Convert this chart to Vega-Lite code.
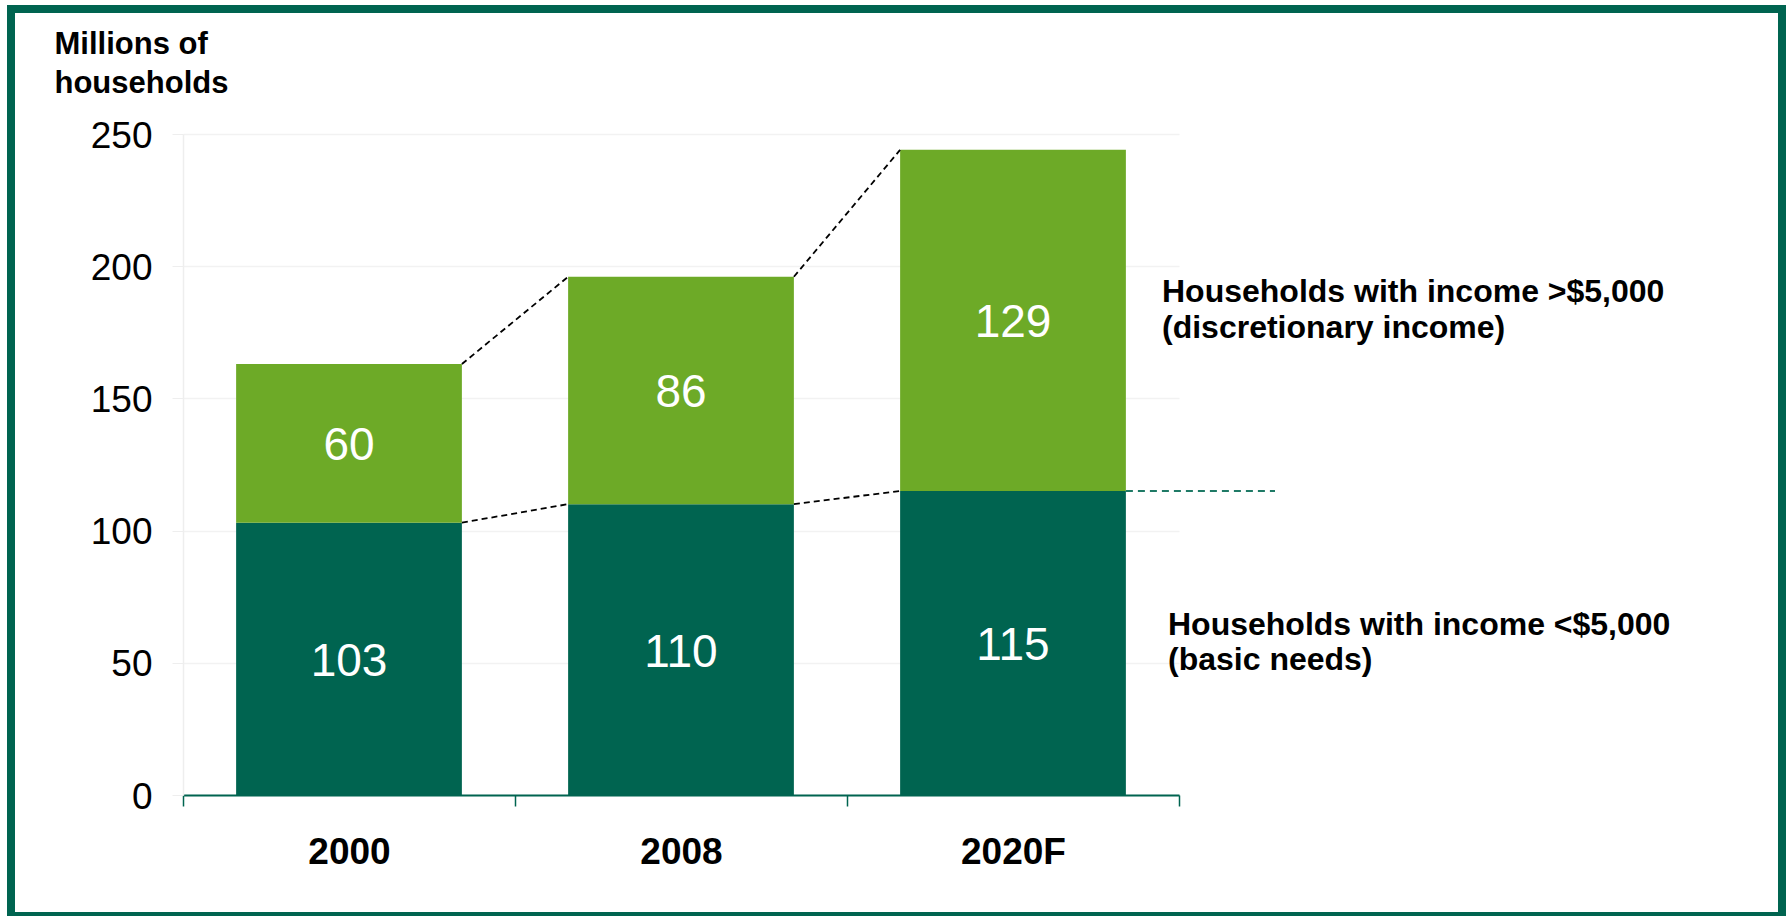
{
  "$schema": "https://vega.github.io/schema/vega-lite/v6.json",
  "width": 1771,
  "height": 907,
  "autosize": {"type": "none"},
  "padding": {"left": 11, "top": 9, "right": 10, "bottom": 0},
  "background": "white",
  "config": {"view": {"stroke": "#006450", "strokeWidth": 8, "fill": "white"}, "font": "Liberation Sans"},
  "datasets": {
    "main": [
      {"year": "2000", "series": "basic", "value": 103},
      {"year": "2000", "series": "discretionary", "value": 60},
      {"year": "2008", "series": "basic", "value": 110},
      {"year": "2008", "series": "discretionary", "value": 86},
      {"year": "2020F", "series": "basic", "value": 115},
      {"year": "2020F", "series": "discretionary", "value": 129}
    ],
    "connectors": [
      {"from": "2000", "to": "2008", "y1": 163, "y2": 196},
      {"from": "2008", "to": "2020F", "y1": 196, "y2": 244},
      {"from": "2000", "to": "2008", "y1": 103, "y2": 110},
      {"from": "2008", "to": "2020F", "y1": 110, "y2": 115}
    ]
  },
  "layer": [
    {
      "data": {"name": "main"},
      "transform": [{"stack": "value", "groupby": ["year"], "sort": [{"field": "series", "order": "ascending"}], "as": ["v0", "v1"]}],
      "mark": {"type": "bar", "width": {"band": 0.68}},
      "encoding": {
        "x": {
          "field": "year", "type": "nominal",
          "scale": {"domain": ["2000", "2008", "2020F"], "paddingInner": 0, "paddingOuter": 0, "range": [172, 1168]},
          "axis": {
            "title": null, "labelAngle": 0, "labelFont": "Liberation Sans", "labelFontWeight": "bold", "labelFontSize": 37,
            "labelColor": "black", "labelBaseline": "alphabetic", "labelPadding": 57, "offset": -121,
            "domain": true, "domainColor": "#006450", "domainWidth": 2,
            "tickColor": "#006450", "tickWidth": 1.5, "tickSize": 11,
            "tickBand": "extent", "grid": false
          }
        },
        "y": {
          "field": "v0", "type": "quantitative",
          "scale": {"domain": [0, 250], "nice": false, "range": [786, 125]},
          "axis": {
            "values": [0, 50, 100, 150, 200, 250],
            "title": ["Millions of", "households"],
            "titleFont": "Liberation Sans", "titleFontSize": 31, "titleFontWeight": "bold", "titleColor": "black",
            "titleAngle": 0, "titleAlign": "left", "titleBaseline": "alphabetic", "titleX": -129, "titleY": 44, "titleLineHeight": 39,
            "labelFontSize": 37, "labelColor": "black", "labelPadding": 20, "labelOffset": 2, "offset": -172,
            "domain": true, "domainColor": "#eeeeee", "domainWidth": 1.5, "tickColor": "#eeeeee", "tickSize": 11,
            "grid": true, "gridColor": "#f2f2f2", "gridWidth": 1.5
          }
        },
        "y2": {"field": "v1"},
        "color": {
          "field": "series", "type": "nominal",
          "scale": {"domain": ["basic", "discretionary"], "range": ["#006450", "#6DAA27"]},
          "legend": null
        }
      }
    },
    {
      "data": {"name": "main"},
      "transform": [
        {"stack": "value", "groupby": ["year"], "sort": [{"field": "series", "order": "ascending"}], "as": ["v0", "v1"]},
        {"fold": ["v0", "v1"], "as": ["edgeKey", "edge"]},
        {"aggregate": [{"op": "mean", "field": "edge", "as": "mid"}], "groupby": ["year", "series", "value"]}
      ],
      "mark": {"type": "text", "color": "white", "fontSize": 46, "baseline": "middle", "align": "center", "dy": 3},
      "encoding": {
        "x": {"field": "year", "type": "nominal"},
        "y": {"field": "mid", "type": "quantitative"},
        "text": {"field": "value", "type": "quantitative"}
      }
    },
    {
      "data": {"name": "connectors"},
      "mark": {"type": "rule", "color": "black", "strokeWidth": 1.8, "strokeDash": [6, 4], "xOffset": 112.9, "x2Offset": -112.9},
      "encoding": {
        "x": {"field": "from", "type": "nominal"},
        "x2": {"field": "to"},
        "y": {"field": "y1", "type": "quantitative"},
        "y2": {"field": "y2"}
      }
    },
    {
      "data": {"name": "main"},
      "transform": [
        {"stack": "value", "groupby": ["year"], "sort": [{"field": "series", "order": "ascending"}], "as": ["v0", "v1"]},
        {"filter": "datum.year === '2020F' && datum.series === 'basic'"}
      ],
      "mark": {"type": "rule", "color": "#1F7A66", "strokeWidth": 2, "strokeDash": [7, 5], "xOffset": 112.9, "x2Offset": 262},
      "encoding": {
        "x": {"field": "year", "type": "nominal"},
        "x2": {"field": "year"},
        "y": {"field": "v1", "type": "quantitative"}
      }
    },
    {
      "data": {"name": "main"},
      "transform": [
        {"stack": "value", "groupby": ["year"], "sort": [{"field": "series", "order": "ascending"}], "as": ["v0", "v1"]},
        {"filter": "datum.year === '2020F' && datum.series === 'discretionary'"}
      ],
      "mark": {
        "type": "text", "text": ["Households with income >$5,000", "(discretionary income)"],
        "align": "left", "baseline": "alphabetic", "dx": 149, "dy": 152, "fontSize": 32, "fontWeight": "bold",
        "lineHeight": 36.6, "color": "black"
      },
      "encoding": {
        "x": {"field": "year", "type": "nominal"},
        "y": {"field": "v1", "type": "quantitative"}
      }
    },
    {
      "data": {"name": "main"},
      "transform": [
        {"stack": "value", "groupby": ["year"], "sort": [{"field": "series", "order": "ascending"}], "as": ["v0", "v1"]},
        {"filter": "datum.year === '2020F' && datum.series === 'basic'"}
      ],
      "mark": {
        "type": "text", "text": ["Households with income <$5,000", "(basic needs)"],
        "align": "left", "baseline": "alphabetic", "dx": 155, "dy": 144, "fontSize": 32, "fontWeight": "bold",
        "lineHeight": 35, "color": "black"
      },
      "encoding": {
        "x": {"field": "year", "type": "nominal"},
        "y": {"field": "v1", "type": "quantitative"}
      }
    }
  ]
}
